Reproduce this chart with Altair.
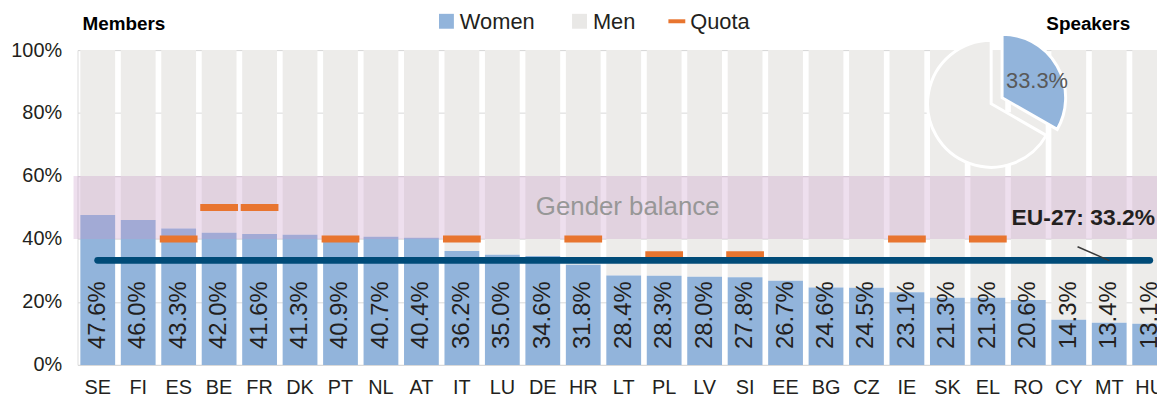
import altair as alt
import pandas as pd

# ---------------- data ----------------
countries = ["SE", "FI", "ES", "BE", "FR", "DK", "PT", "NL", "AT", "IT", "LU", "DE", "HR", "LT",
             "PL", "LV", "SI", "EE", "BG", "CZ", "IE", "SK", "EL", "RO", "CY", "MT", "HU"]
women = [47.6, 46.0, 43.3, 42.0, 41.6, 41.3, 40.9, 40.7, 40.4, 36.2, 35.0, 34.6, 31.8, 28.4,
         28.3, 28.0, 27.8, 26.7, 24.6, 24.5, 23.1, 21.3, 21.3, 20.6, 14.3, 13.4, 13.1]
quota_countries = ["ES", "BE", "FR", "PT", "IT", "HR", "PL", "SI", "IE", "EL"]
quota_values = [40, 50, 50, 40, 40, 40, 35, 35, 40, 40]
eu_average = 33.2
balance_range = [40, 60]
speaker_labels = ["Women", "Men"]
speaker_values = [33.3, 66.7]
legend_labels = ["Women", "Men", "Quota"]
y_ticks = [0, 20, 40, 60, 80, 100]

# ---------------- styles ----------------
FONT = "Liberation Sans"
BLUE = "#92B4DB"
GRAY = "#EDECEA"
ORANGE = "#E8752F"
NAVY = "#004B78"
TXT = "#231F20"
W, H = 1087, 317
X_RANGE = 1100

df = pd.DataFrame({"country": countries, "women": women})
df["label"] = [f"{v:.1f}%" for v in women]
df_quota = pd.DataFrame({"country": quota_countries, "quota": quota_values})
df_band = pd.DataFrame({"lo": [balance_range[0]], "hi": [balance_range[1]],
                        "t": ["Gender balance"]})
df_pie = pd.DataFrame({"group": speaker_labels, "value": speaker_values,
                       "ord": list(range(len(speaker_labels)))})

x_axis = alt.Axis(title=None, labelFontSize=20, labelPadding=13, labelAngle=0, ticks=False,
                  domain=False, labelColor=TXT, labelFont=FONT, grid=False)
x_scale = alt.Scale(domain=countries, range=[0, X_RANGE], paddingInner=0.14, paddingOuter=0.07)
y_axis = alt.Axis(title=None, values=y_ticks, labelExpr="datum.value + '%'", labelFontSize=20,
                  labelPadding=16, ticks=False, domain=False, gridColor="#D9D9D9",
                  labelColor=TXT, labelFont=FONT)
y_scale = alt.Scale(domain=[0, 100], nice=False)


def X(field="country:N"):
    return alt.X(field, sort=countries, scale=x_scale, axis=x_axis)


def Y(field):
    return alt.Y(field, scale=y_scale, axis=y_axis)


base = alt.Chart(df)

men_bars = base.mark_bar(color=GRAY).encode(x=X(), y=Y("women:Q"), y2=alt.datum(100))
women_bars = base.mark_bar(color=BLUE).encode(x=X(), y=Y("women:Q"))

band = alt.Chart(df_band).mark_rect(color="#C694C6", opacity=0.3).encode(
    x=alt.value(-4), x2=alt.value(X_RANGE), y=Y("lo:Q"), y2="hi:Q")

band_text = alt.Chart(df_band).mark_text(fontSize=26, color="#979797", font=FONT).encode(
    x=alt.value(554), y=alt.datum(sum(balance_range) / 2), text="t:N")

quota = alt.Chart(df_quota).mark_tick(color=ORANGE, size=38, thickness=7, opacity=1).encode(
    x=X(), y=Y("quota:Q"))

eu_line = base.mark_line(color=NAVY, strokeWidth=7, strokeCap="round").encode(
    x=X(), y=alt.datum(eu_average))

value_labels = base.mark_text(angle=270, align="left", baseline="middle", dx=16,
                              fontSize=24, color=TXT, font=FONT).encode(
    x=X(), y=alt.datum(0), text="label:N")

eu_label = alt.Chart(pd.DataFrame({"t": [f"EU-27: {eu_average:.1f}%"]})).mark_text(
    align="right", baseline="middle", fontSize=23, fontWeight="bold", color=TXT, font=FONT
).encode(x=alt.value(1085), y=alt.value(169), text="t:N")

leader = alt.Chart(pd.DataFrame({"a": [0]})).mark_rule(color="#3A3A3A", strokeWidth=1.5).encode(
    x=alt.value(1007), y=alt.value(198), x2=alt.value(1039), y2=alt.value(212))

pie_color = alt.Color("group:N", scale=alt.Scale(domain=speaker_labels, range=[BLUE, GRAY]),
                      legend=None)
pie_men = alt.Chart(df_pie).mark_arc(radius=64, stroke="white", strokeWidth=3).encode(
    theta=alt.Theta("value:Q", stack=True), order=alt.Order("ord:Q"), color=pie_color,
    opacity=alt.condition(alt.datum.group == "Men", alt.value(1), alt.value(0)),
    x=alt.value(920), y=alt.value(54))
pie_women = alt.Chart(df_pie).mark_arc(radius=64, stroke="white", strokeWidth=3).encode(
    theta=alt.Theta("value:Q", stack=True), order=alt.Order("ord:Q"), color=pie_color,
    opacity=alt.condition(alt.datum.group == "Women", alt.value(1), alt.value(0)),
    x=alt.value(931), y=alt.value(48))
pie_label = alt.Chart(pd.DataFrame({"t": [f"{speaker_values[0]:.1f}%"]})).mark_text(
    align="left", baseline="middle", fontSize=22, color="#595959", font=FONT).encode(
    x=alt.value(935), y=alt.value(31), text="t:N")

# legend
leg_women_sym = alt.Chart(pd.DataFrame({"a": [0]})).mark_square(size=225, color=BLUE, opacity=1).encode(
    x=alt.value(371.5), y=alt.value(-29))
leg_men_sym = alt.Chart(pd.DataFrame({"a": [0]})).mark_square(size=225, color="#E9E8E6", opacity=1).encode(
    x=alt.value(505.5), y=alt.value(-29))
leg_quota_sym = alt.Chart(pd.DataFrame({"a": [0]})).mark_rule(color=ORANGE, strokeWidth=4).encode(
    x=alt.value(595), x2=alt.value(612), y=alt.value(-29))
leg_texts = []
for lab, xpos in zip(legend_labels, [385, 519, 617]):
    leg_texts.append(alt.Chart(pd.DataFrame({"t": [lab]})).mark_text(
        align="left", baseline="alphabetic", fontSize=22, color=TXT, font=FONT).encode(
        x=alt.value(xpos), y=alt.value(-21), text="t:N"))

title_members = alt.Chart(pd.DataFrame({"t": ["Members"]})).mark_text(
    align="left", baseline="alphabetic", fontSize=19, fontWeight="bold", color="#000", font=FONT
).encode(x=alt.value(5), y=alt.value(-20), text="t:N")
title_speakers = alt.Chart(pd.DataFrame({"t": ["Speakers"]})).mark_text(
    align="right", baseline="alphabetic", fontSize=19, fontWeight="bold", color="#000", font=FONT
).encode(x=alt.value(1060), y=alt.value(-20), text="t:N")

chart = alt.layer(
    men_bars, women_bars, band, quota, eu_line, value_labels, band_text, eu_label, leader,
    pie_men, pie_women, pie_label,
    leg_women_sym, leg_men_sym, leg_quota_sym, *leg_texts,
    title_members, title_speakers,
).properties(
    width=W, height=H,
    padding={"left": 70, "top": 41, "right": 0, "bottom": 36},
    autosize=alt.AutoSizeParams(type="none"),
).configure_view(stroke=None).configure(font=FONT)

chart.save("out.html", embed_options={"renderer": "svg", "actions": False})
